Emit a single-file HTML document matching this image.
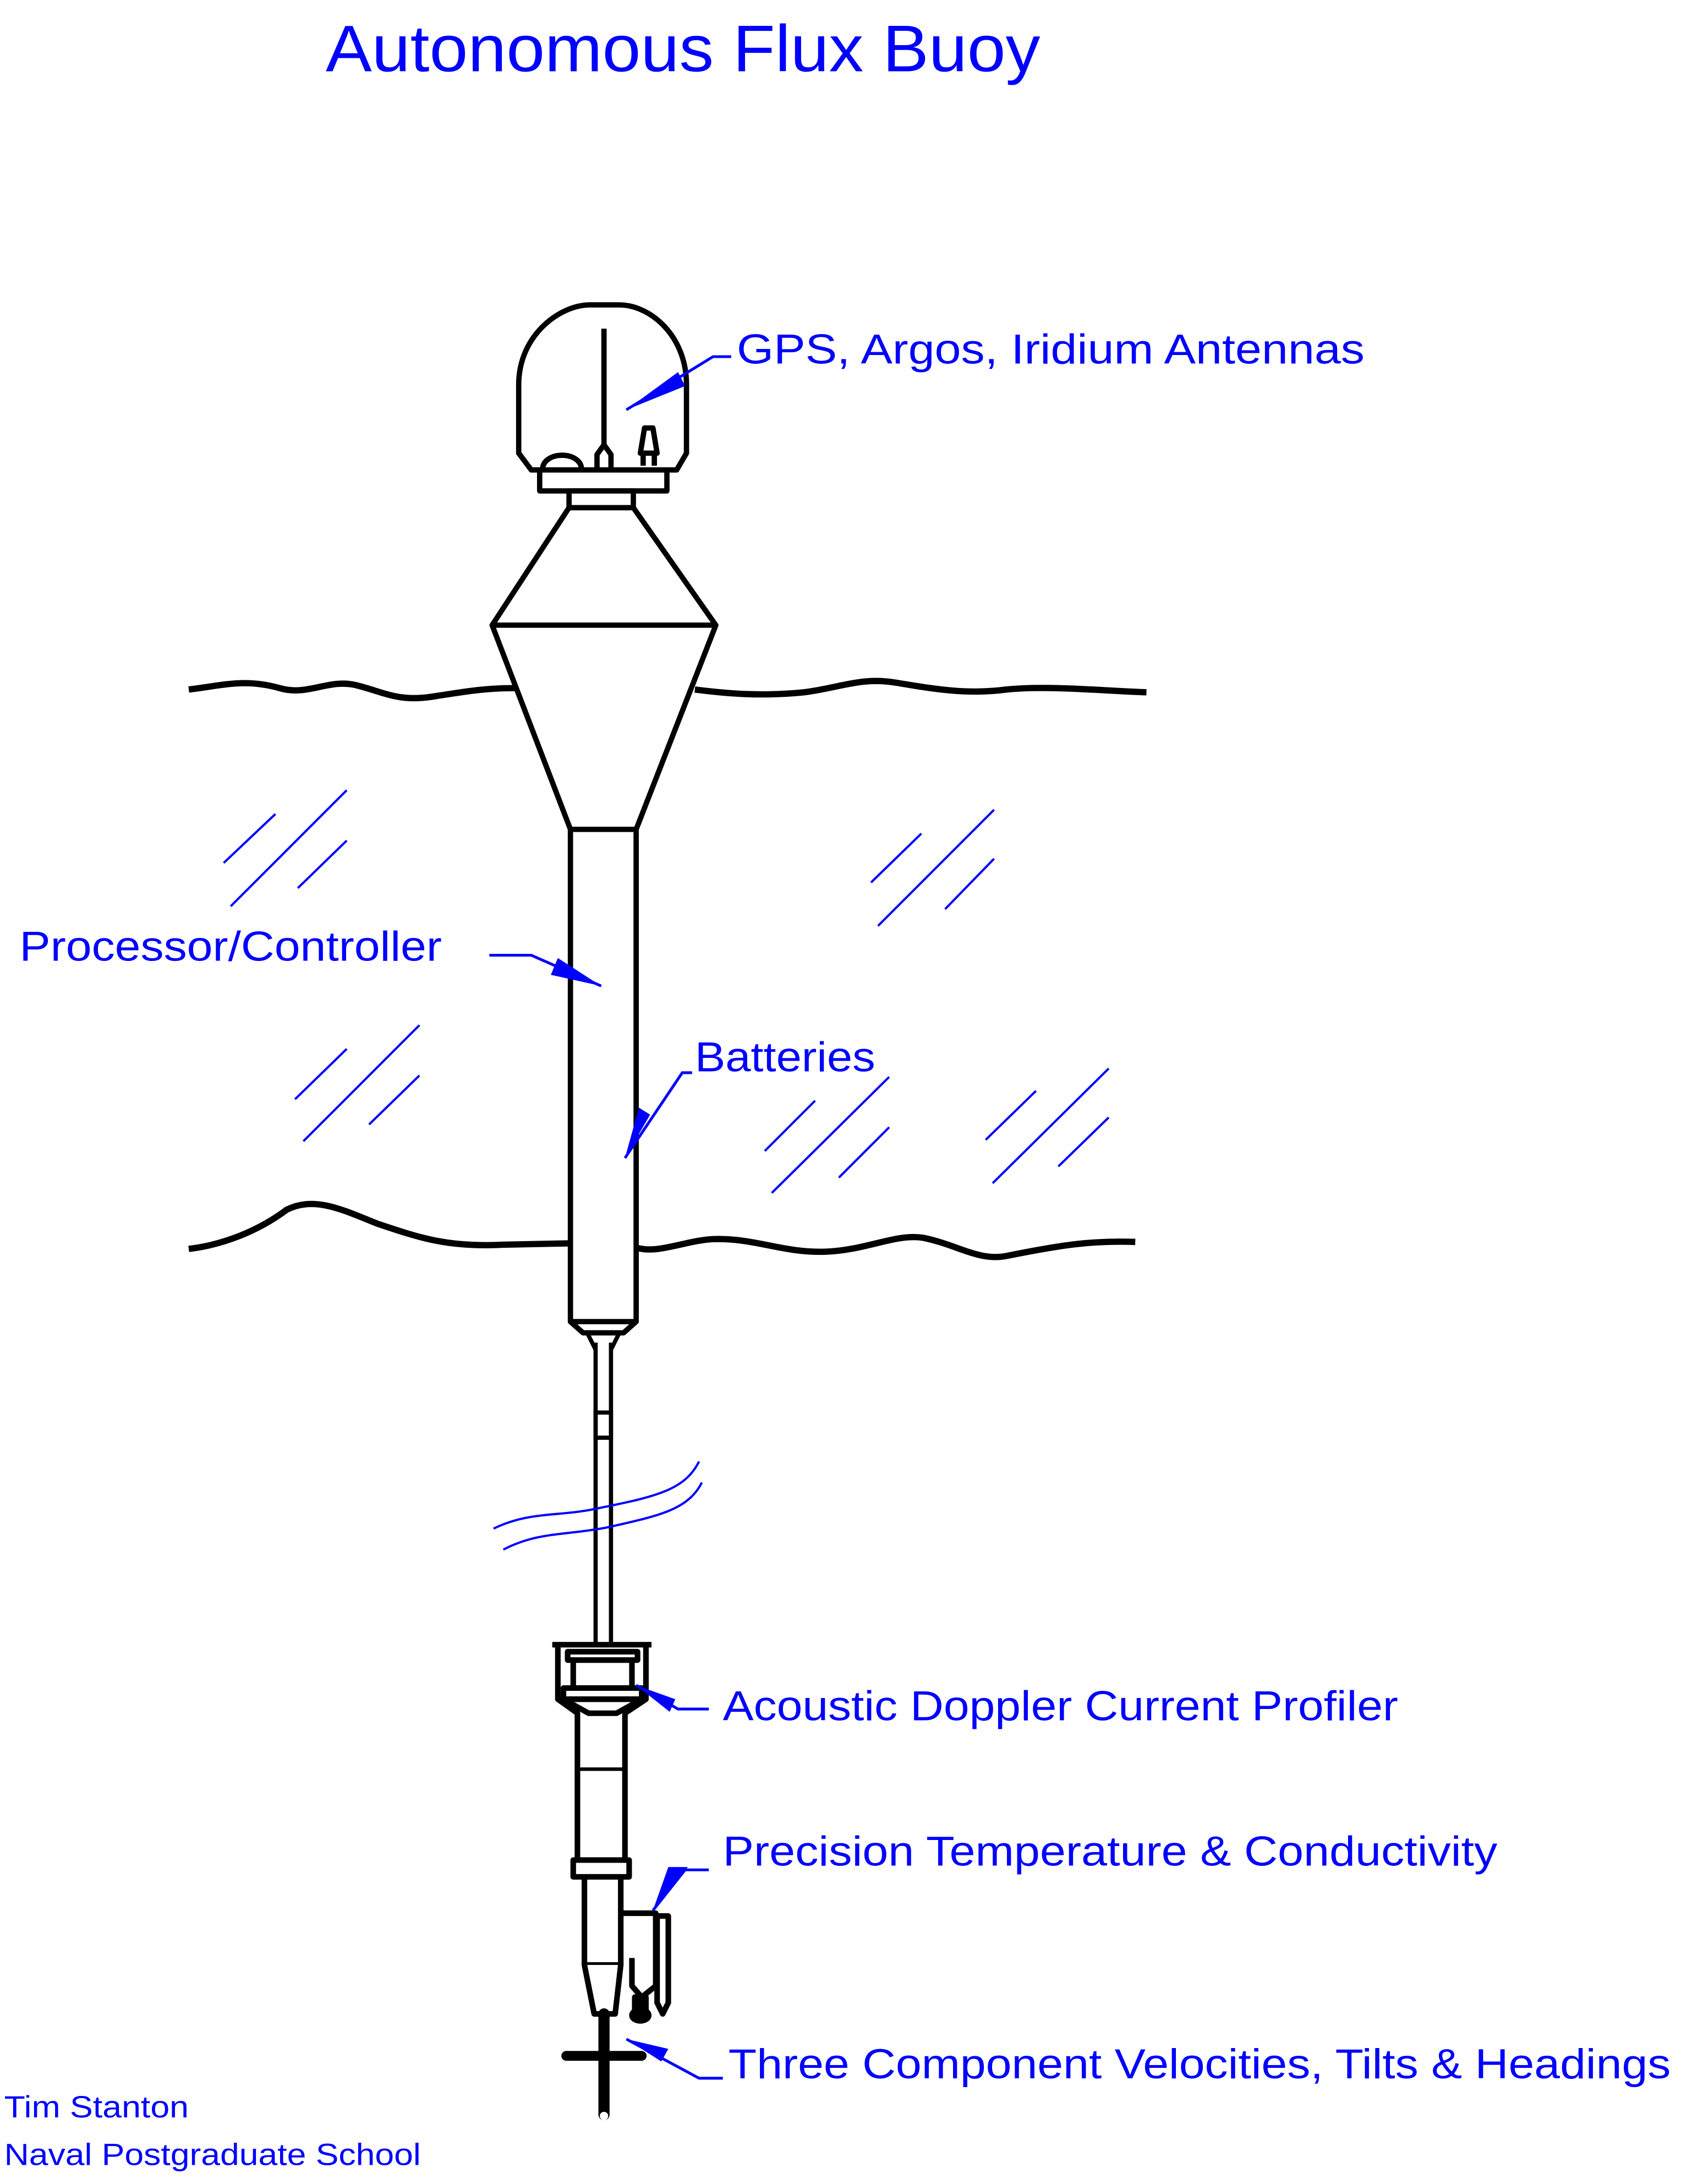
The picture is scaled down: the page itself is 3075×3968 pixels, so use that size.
<!DOCTYPE html>
<html><head><meta charset="utf-8"><style>html,body{margin:0;padding:0;background:#fff}svg{display:block}</style></head>
<body>
<svg width="3075" height="3968" viewBox="0 0 1210.2 1561.6" xmlns="http://www.w3.org/2000/svg" font-family="Liberation Sans, Arial, sans-serif">
<rect width="1210.2" height="1561.6" fill="#fff"/>
<g fill="#0000ff">
<text x="233" y="51" font-size="47" textLength="511" lengthAdjust="spacingAndGlyphs">Autonomous Flux Buoy</text>
<text x="527" y="260" font-size="30" textLength="449" lengthAdjust="spacingAndGlyphs">GPS, Argos, Iridium  Antennas</text>
<text x="14" y="687" font-size="30" textLength="302" lengthAdjust="spacingAndGlyphs">Processor/Controller</text>
<text x="497" y="766" font-size="30" textLength="129" lengthAdjust="spacingAndGlyphs">Batteries</text>
<text x="517" y="1230" font-size="30" textLength="483" lengthAdjust="spacingAndGlyphs">Acoustic Doppler Current Profiler</text>
<text x="517" y="1334" font-size="30" textLength="554" lengthAdjust="spacingAndGlyphs">Precision Temperature &amp; Conductivity</text>
<text x="521" y="1486" font-size="30" textLength="674" lengthAdjust="spacingAndGlyphs">Three Component Velocities, Tilts &amp; Headings</text>
<text x="3" y="1514" font-size="22" textLength="132" lengthAdjust="spacingAndGlyphs">Tim Stanton</text>
<text x="3" y="1548" font-size="22" textLength="298" lengthAdjust="spacingAndGlyphs">Naval Postgraduate School</text>
</g>
<!-- hatch -->
<g stroke="#0000ff" stroke-width="1.6">
<line x1="165" y1="648" x2="248" y2="565"/><line x1="160" y1="617" x2="197" y2="582"/><line x1="213" y1="635" x2="248" y2="601"/>
<line x1="628" y1="662" x2="711" y2="579"/><line x1="623" y1="631" x2="659" y2="596"/><line x1="676" y1="650" x2="711" y2="614"/>
<line x1="217" y1="816" x2="300" y2="733"/><line x1="211" y1="786" x2="248" y2="750"/><line x1="264" y1="804" x2="300" y2="769"/>
<line x1="552" y1="853" x2="636" y2="770"/><line x1="547" y1="823" x2="583" y2="787"/><line x1="600" y1="842" x2="636" y2="806"/>
<line x1="710" y1="846" x2="793" y2="764"/><line x1="705" y1="815" x2="741" y2="780"/><line x1="757" y1="834" x2="793" y2="799"/>
</g>
<!-- waves -->
<g stroke="#000" stroke-width="4.5" fill="none">
<path d="M135,493 C160,490 175,485 200,492 C220,498 235,485 255,490 C275,495 285,502 310,498 C330,495 345,492 368,492"/>
<path d="M497,493 C520,496 545,498 575,495 C600,492 615,484 640,488 C665,492 690,497 720,493 C750,490 790,494 820,495"/>
<path d="M135,893 C160,890 185,880 205,865 C225,855 245,865 270,875 C300,885 320,892 360,890 L408,889"/>
<path d="M455,892 C470,897 490,887 510,886 C540,885 560,896 590,895 C620,894 640,882 660,885 C685,890 700,902 720,898 C760,890 780,887 812,888"/>
</g>
<!-- buoy -->
<g stroke="#000" stroke-width="3.8" fill="#fff" stroke-linejoin="round">
<path d="M380,336 L371,324 L371,275 C371,240 400,218 422,218 L443,218 C465,218 491,240 491,275 L491,324 L484,336 Z"/>
<path d="M388,336 C388,322 416,322 416,336" fill="none"/>
<line x1="432" y1="235" x2="432" y2="318"/>
<path d="M427,336 L427,325 L432,318 L437,325 L437,336" fill="none"/>
<path d="M460,333 L460,324 M468,333 L468,324 M458,324 L470,324 L467,306 L461,306 Z"/>
<rect x="386" y="336" width="91" height="15"/>
<rect x="407" y="351" width="46" height="12"/>
<polygon points="407,363 453,363 512,447 352,447"/>
<polygon points="352,447 512,447 455,593 408,593"/>
<path d="M408,593 L455,593 L455,945 L446,953 L417,953 L408,945 Z"/>
<line x1="408" y1="945" x2="455" y2="945"/>
</g>
<!-- cable -->
<g stroke="#000" stroke-width="3" fill="none">
<path d="M420,953 L426,965 M443,953 L437,965"/>
<line x1="426" y1="960" x2="426" y2="1175"/><line x1="437" y1="960" x2="437" y2="1175"/>
<rect x="426" y="1010" width="11" height="18"/>
</g>
<g stroke="#0000ff" stroke-width="1.6" fill="none">
<path d="M353,1093 C380,1080 400,1085 430,1078 C470,1070 490,1065 500,1045"/>
<path d="M360,1108 C385,1095 405,1098 435,1092 C470,1084 492,1080 502,1060"/>
</g>
<!-- ADCP -->
<g stroke="#000" stroke-width="4" fill="#fff" stroke-linejoin="round">
<line x1="395" y1="1176" x2="466" y2="1176"/>
<path d="M399,1176 L399,1215 L413,1225 L413,1330 M462,1176 L462,1215 L447,1225 L447,1330" fill="none"/>
<rect x="406" y="1181" width="50" height="6"/>
<rect x="410" y="1187" width="42" height="20"/>
<rect x="403" y="1207" width="56" height="8"/>
<path d="M403,1215 L459,1215 L441,1225 L421,1225 Z"/>
<line x1="413" y1="1265" x2="447" y2="1265" stroke-width="2.5"/>
<rect x="410" y="1330" width="40" height="12"/>
<path d="M418,1342 L418,1405 L444,1405 L444,1342" fill="none"/>
<path d="M418,1405 L425,1440 L440,1440 L444,1405"/>
<path d="M444,1368 L469,1368 L469,1420 L459,1428 L452,1420 L452,1400" fill="none"/>
<path d="M470,1370 L478,1370 L478,1432 L474,1440 L470,1432 Z"/>
<rect x="454" y="1428" width="8" height="10" fill="#000"/>
<ellipse cx="458" cy="1441" rx="6" ry="4" fill="#000"/>
</g>
<g stroke="#000" fill="none" stroke-linecap="round">
<line x1="432" y1="1440" x2="432" y2="1512" stroke-width="8"/>
<line x1="405" y1="1470" x2="459" y2="1470" stroke-width="7"/>
</g>
<circle cx="432" cy="1513" r="3" fill="#fff"/>
<!-- leaders (on top) -->
<g stroke="#0000ff" stroke-width="2" fill="none">
<polyline points="523,255 510,255 448,293"/>
<polyline points="350,683 380,683 430,705"/>
<polyline points="495,767 488,767 447,828"/>
<polyline points="507,1222 485,1222 455,1205"/>
<polyline points="507,1337 490,1337 467,1366"/>
<polyline points="517,1486 500,1486 448,1458"/>
</g>
<g fill="#0000ff">
<polygon points="448,293 485,266 490,276"/>
<polygon points="430,705 399,685 394,697"/>
<polygon points="447,828 457,792 465,797"/>
<polygon points="455,1205 483,1215 479,1224"/>
<polygon points="467,1366 478,1335 492,1335"/>
<polygon points="448,1458 478,1465 473,1474"/>
</g>
</svg>
</body></html>
